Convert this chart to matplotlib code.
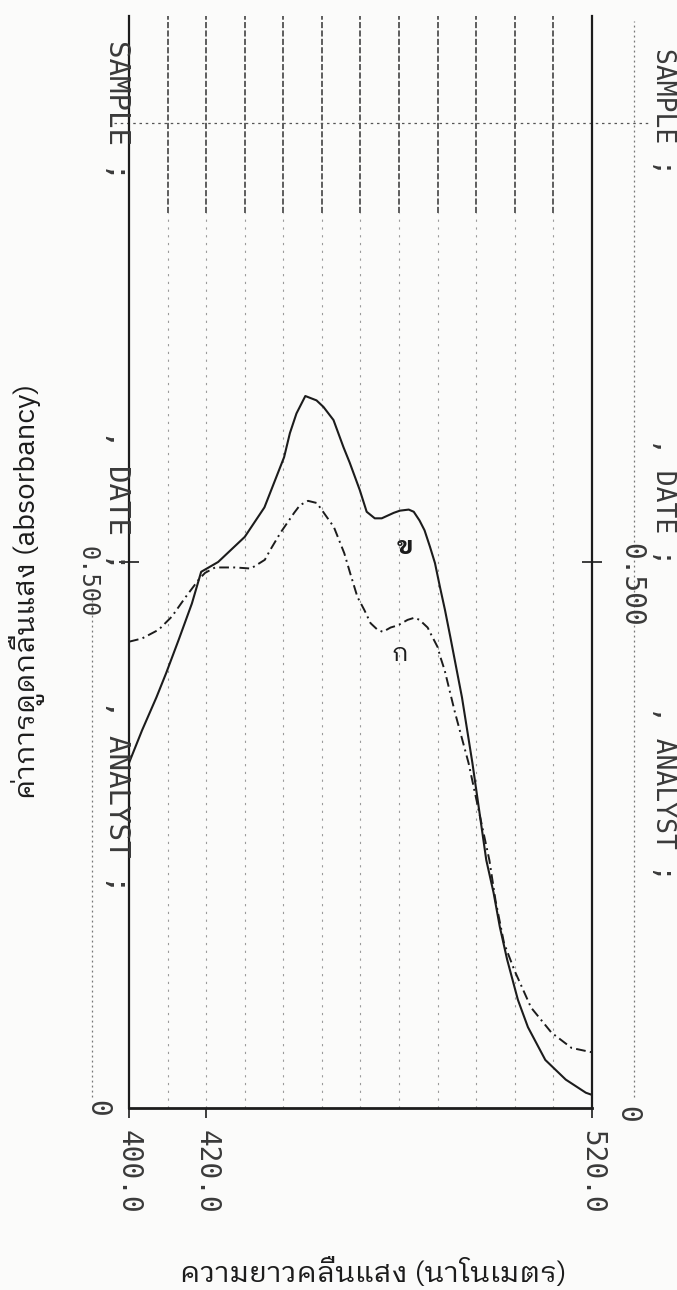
import matplotlib
matplotlib.use("Agg")
import matplotlib.pyplot as plt

# data (wavelength nm, absorbance)
wl_b = [400.0, 403.4, 407.1, 409.6, 412.9, 416.3, 418.7, 423.1, 430.0, 435.1,
        440.2, 441.7, 443.4, 445.7, 448.6, 450.4, 453.0, 455.6, 457.2, 459.8,
        461.6, 463.7, 465.5, 468.6, 470.2, 472.5, 473.8, 475.3, 476.6, 478.0,
        479.3, 480.6, 481.9, 483.3, 486.3, 489.0, 492.6, 494.5, 496.1, 498.0,
        500.8, 503.4, 507.9, 513.2, 518.4, 520.0]
abs_b = [0.316, 0.346, 0.376, 0.398, 0.429, 0.462, 0.491, 0.500, 0.523, 0.550,
         0.596, 0.618, 0.636, 0.652, 0.648, 0.642, 0.630, 0.605, 0.591, 0.566,
         0.546, 0.540, 0.540, 0.545, 0.547, 0.548, 0.546, 0.538, 0.529, 0.514,
         0.499, 0.477, 0.456, 0.431, 0.376, 0.316, 0.227, 0.197, 0.166, 0.136,
         0.099, 0.074, 0.044, 0.026, 0.014, 0.012]

wl_k = [400.0, 403.4, 407.7, 411.1, 414.7, 418.1, 419.7, 422.3, 427.5, 431.6,
        435.2, 436.6, 439.3, 442.8, 444.3, 446.4, 448.7, 450.5, 453.1, 455.8,
        457.3, 459.2, 461.0, 462.6, 464.4, 465.8, 467.8, 469.7, 472.2, 474.0,
        475.3, 477.4, 478.1, 480.0, 480.7, 481.8, 484.5, 488.0, 493.4, 495.0,
        497.2, 499.9, 504.2, 509.5, 514.7, 520.0]
abs_k = [0.427, 0.430, 0.438, 0.450, 0.468, 0.484, 0.490, 0.495, 0.495, 0.494,
         0.502, 0.511, 0.527, 0.545, 0.552, 0.556, 0.554, 0.545, 0.532, 0.508,
         0.490, 0.468, 0.456, 0.444, 0.438, 0.436, 0.440, 0.442, 0.447, 0.449,
         0.447, 0.440, 0.435, 0.422, 0.413, 0.401, 0.362, 0.316, 0.227, 0.190,
         0.151, 0.126, 0.092, 0.069, 0.055, 0.051]

grid_wl = [410, 420, 430, 440, 450, 460, 470, 480, 490, 500, 510]
bottom_ticks = [400, 420, 520]
bottom_labels = ["400.0", "420.0", "520.0"]
abs_tick = 0.5
head_rule = 0.902          # dotted rule across the printout header

thai = ["IBM Plex Sans Thai Looped", "DejaVu Sans"]
mono = "DejaVu Sans Mono"
ink = "#1c1c1c"

W, H = 677, 1290
fig = plt.figure(figsize=(W / 100, H / 100), dpi=100, facecolor="#fbfbfa")
ax = fig.add_axes([129 / W, 1 - 1108 / H, 463 / W, 1092 / H])
ax.set_facecolor("none")
ax.set_xlim(400, 520)
ax.set_ylim(0, 1.0)

# grid: darker dashes in the header band, sparse broken dots below
for w in grid_wl:
    ax.axvline(w, ymin=0.82, ymax=1.0, color="#333333", lw=1.1, ls=(0, (4, 1.5)))
    ax.axvline(w, ymin=0.0, ymax=0.82, color="#9a9a9a", lw=0.8, ls=(0, (2, 5)))
ax.plot([396, 535], [head_rule, head_rule], color="#555555", lw=0.9,
        ls=(0, (2, 3)), clip_on=False)
# dotted fill-in lines of the header, left and right of the frame
ax.plot([390.5, 390.5], [0.01, 0.47], color="#777777", lw=0.9,
        ls=(0, (1.5, 2.5)), clip_on=False)
ax.plot([531.0, 531.0], [0.01, 0.995], color="#777777", lw=0.9,
        ls=(0, (1.5, 2.5)), clip_on=False)

# spectra
ax.plot(wl_b, abs_b, color=ink, lw=1.5, solid_joinstyle="round")
ax.plot(wl_k, abs_k, color=ink, lw=1.4, ls=(0, (5, 2.2, 1.0, 2.2)))
ax.text(471.5, 0.514, "ข", family=thai, fontsize=18, color=ink,
        ha="center", va="center", fontweight="bold")
ax.text(470.2, 0.415, "ก", family=thai, fontsize=18, color=ink,
        ha="center", va="center")

# axes frame like the printer output
for s in ["left", "right", "bottom"]:
    ax.spines[s].set_color(ink)
    ax.spines[s].set_linewidth(1.6)
ax.spines["bottom"].set_linewidth(2.0)
ax.spines["top"].set_visible(False)
ax.set_xticks(bottom_ticks)
ax.set_xticklabels([])
ax.tick_params(axis="x", direction="out", length=7, width=1.2, color=ink)
ax.set_yticks([abs_tick])
ax.set_yticklabels([])
ax.tick_params(axis="y", direction="inout", length=14, width=1.2, color=ink,
               left=True, right=True)

# rotated dot-matrix style labels
def ftext(x, y, s, size=20):
    fig.text(x / W, 1 - y / H, s, rotation=-90, ha="center", va="top",
             family=mono, color="#3a3a3a", fontsize=size)

ftext(117, 40, "SAMPLE ;", 21)
ftext(117, 430, ", DATE ;", 21)
ftext(117, 700, ", ANALYST ;", 21)
ftext(663, 48, "SAMPLE ;", 19)
ftext(663, 438, ", DATE ;", 19)
ftext(663, 706, ", ANALYST ;", 19)
ftext(88, 546, "0.500", 17)
ftext(631, 543, "0.500")
ftext(97, 1100, "0")
ftext(627, 1106, "0")
for t, lab in zip(bottom_ticks, bottom_labels):
    xp = 129 + (t - 400) / 120 * 463
    ftext(xp, 1130, lab)

fig.text(27 / W, 1 - 591 / H, "ค่าการดูดกลืนแสง (absorbancy)", rotation=90,
         ha="center", va="center", family=thai, fontsize=21, color=ink)
fig.text(373 / W, 1 - 1273 / H, "ความยาวคลื่นแสง (นาโนเมตร)",
         ha="center", va="center", family=thai, fontsize=21, color=ink)

fig.savefig("out.png", dpi=100, facecolor=fig.get_facecolor())
